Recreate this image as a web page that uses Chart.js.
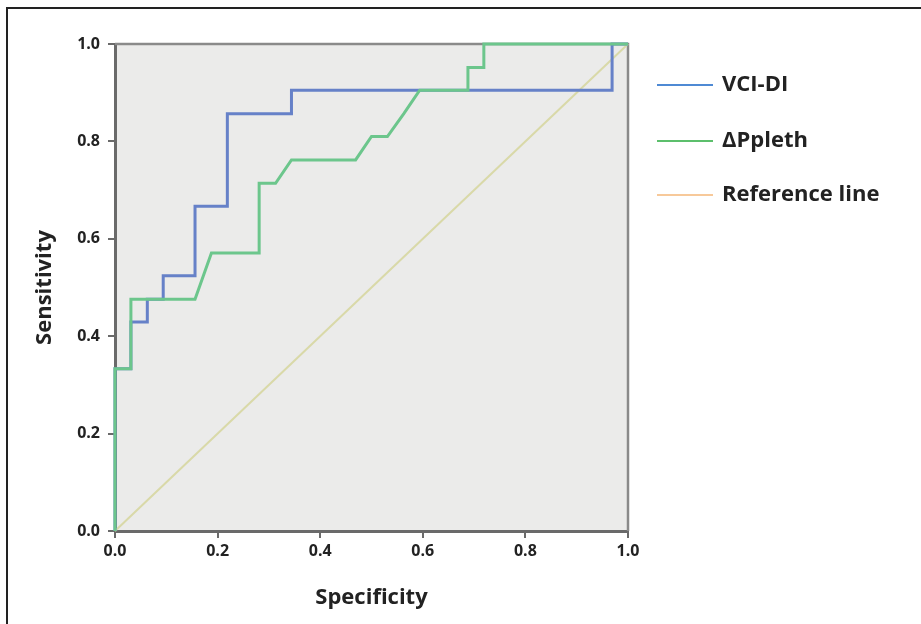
<!DOCTYPE html>
<html>
<head>
<meta charset="utf-8">
<script src="https://cdn.jsdelivr.net/npm/chart.js@4"></script>
<style>
  html, body { margin: 0; padding: 0; background: #fff; overflow: hidden; }
  #wrap { position: relative; width: 921px; height: 624px; }
  #frame { position: absolute; left: 6px; top: 7px; width: 1000px; height: 1000px;
           border-top: 2px solid #222; border-left: 2px solid #222; }
  canvas { position: absolute; left: 0; top: 0; }
</style>
</head>
<body>
<div id="wrap">
  <div id="frame"></div>
  <canvas id="roc" width="921" height="624"></canvas>
</div>
<script>
// ROC curves, specificity axis as drawn in the figure
const vciSpec = [0, 0, 0.031, 0.031, 0.063, 0.063, 0.094, 0.094, 0.156, 0.156, 0.219, 0.219, 0.344, 0.344, 0.969, 0.969, 1];
const vciSens = [0, 0.333, 0.333, 0.429, 0.429, 0.476, 0.476, 0.524, 0.524, 0.667, 0.667, 0.857, 0.857, 0.905, 0.905, 1, 1];

const ppSpec = [0, 0, 0.031, 0.031, 0.156, 0.188, 0.281, 0.281, 0.313, 0.344, 0.469, 0.5, 0.531, 0.563, 0.594, 0.688, 0.688, 0.719, 0.719, 1];
const ppSens = [0, 0.333, 0.333, 0.476, 0.476, 0.571, 0.571, 0.714, 0.714, 0.762, 0.762, 0.810, 0.810, 0.857, 0.905, 0.905, 0.952, 0.952, 1, 1];

const refSpec = [0, 1];
const refSens = [0, 1];

const seriesNames = ['VCI-DI', 'ΔPpleth', 'Reference line'];
const axisTicks = [0, 0.2, 0.4, 0.6, 0.8, 1.0];

const toPoints = (xs, ys) => xs.map((x, i) => ({ x: x, y: ys[i] }));

const FONT = '"Open Sans", "Noto Sans", sans-serif';

// grey plot panel + top/right frame
const panel = {
    id: 'panel',
    beforeDraw(chart) {
        const { ctx, chartArea: a } = chart;
        ctx.save();
        ctx.fillStyle = '#ebebea';
        ctx.fillRect(a.left, a.top, a.right - a.left, a.bottom - a.top);
        ctx.restore();
    },
    beforeDatasetsDraw(chart) {
        const { ctx, chartArea: a } = chart;
        ctx.save();
        ctx.strokeStyle = '#8a8a8a';
        ctx.lineWidth = 2.5;
        ctx.beginPath();
        ctx.moveTo(a.left, a.top);
        ctx.lineTo(a.right, a.top);
        ctx.lineTo(a.right, a.bottom);
        ctx.stroke();
        ctx.restore();
    }
};

// legend to the right of the panel
const sideLegend = {
    id: 'sideLegend',
    afterDraw(chart) {
        const { ctx } = chart;
        const x0 = 657, lineLen = 56, gap = 9;
        const ys = [85, 141, 195];
        ctx.save();
        ctx.font = 'bold 22px ' + FONT;
        ctx.textBaseline = 'middle';
        ctx.textAlign = 'left';
        chart.data.datasets.forEach((ds, i) => {
            ctx.strokeStyle = ds.legendColor || ds.borderColor;
            ctx.lineWidth = 2;
            ctx.beginPath();
            ctx.moveTo(x0, ys[i]);
            ctx.lineTo(x0 + lineLen, ys[i]);
            ctx.stroke();
            ctx.fillStyle = '#222';
            ctx.fillText(ds.label, x0 + lineLen + gap, ys[i]);
        });
        ctx.restore();
    }
};

new Chart(document.getElementById('roc'), {
    type: 'scatter',
    data: {
        datasets: [
            {
                label: seriesNames[0],
                data: toPoints(vciSpec, vciSens),
                borderColor: '#6681c8',
                legendColor: '#4f8ad4',
                borderWidth: 3,
                order: 1
            },
            {
                label: seriesNames[1],
                data: toPoints(ppSpec, ppSens),
                borderColor: '#6cc68c',
                legendColor: '#5cbf6c',
                borderWidth: 3,
                order: 0
            },
            {
                label: seriesNames[2],
                data: toPoints(refSpec, refSens),
                borderColor: '#d9d9a8',
                legendColor: '#f7c99a',
                borderWidth: 2,
                order: 2
            }
        ].map(d => Object.assign(d, { showLine: true, pointRadius: 0, tension: 0, clip: 4, fill: false }))
    },
    options: {
        responsive: false,
        animation: false,
        layout: { padding: { left: 0, top: 44, right: 293, bottom: 0 } },
        plugins: { legend: { display: false }, tooltip: { enabled: false } },
        scales: {
            x: {
                type: 'linear', min: 0, max: 1,
                afterBuildTicks: s => { s.ticks = axisTicks.map(v => ({ value: v })); },
                afterFit: s => { s.height = 93; },
                border: { display: true, color: '#6a6a6a', width: 3 },
                grid: { drawOnChartArea: false, drawTicks: true, tickLength: 7, color: '#6a6a6a', lineWidth: 2 },
                ticks: { padding: 4, color: '#222', font: { family: FONT, size: 16, weight: 'bold' },
                         callback: v => v.toFixed(1) },
                title: { display: true, text: 'Specificity', color: '#222',
                         font: { family: FONT, size: 22, weight: 'bold' }, padding: { top: 0, bottom: 13 } }
            },
            y: {
                type: 'linear', min: 0, max: 1,
                afterBuildTicks: s => { s.ticks = axisTicks.map(v => ({ value: v })); },
                afterFit: s => { s.width = 115; },
                border: { display: true, color: '#6a6a6a', width: 3 },
                grid: { drawOnChartArea: false, drawTicks: true, tickLength: 7, color: '#6a6a6a', lineWidth: 2 },
                ticks: { padding: 8, color: '#222', font: { family: FONT, size: 16, weight: 'bold' },
                         callback: v => v.toFixed(1) },
                title: { display: true, text: 'Sensitivity', color: '#222',
                         font: { family: FONT, size: 22, weight: 'bold' }, padding: { top: 32, bottom: 0 } }
            }
        }
    },
    plugins: [panel, sideLegend]
});
</script>
</body>
</html>
